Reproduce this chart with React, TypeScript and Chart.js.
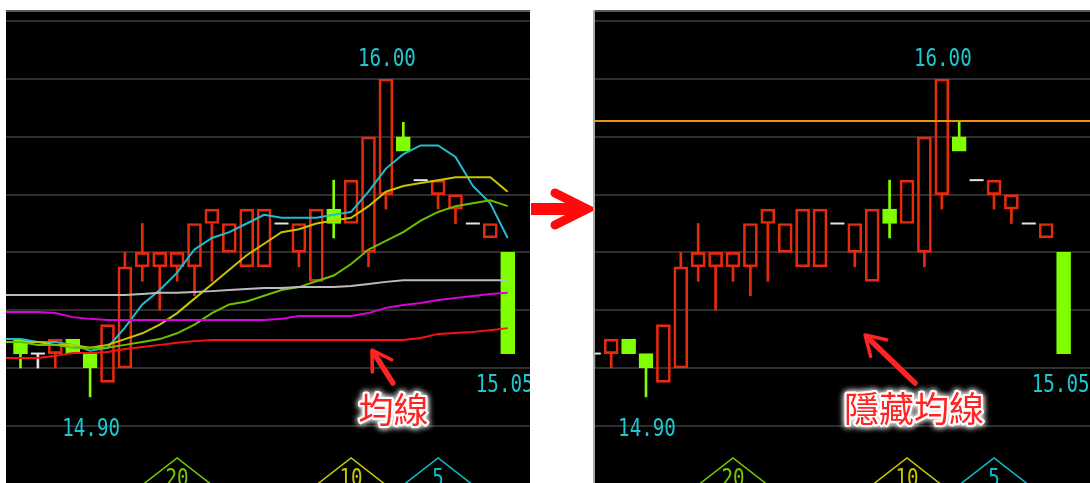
import React, { useEffect, useRef } from 'react';
import { Chart, registerables } from 'chart.js';

Chart.register(...registerables);

// ---------- data ----------
const candleIndex = [0, 1, 2, 3, 4, 5, 6, 7, 8, 9, 10, 11, 12, 13, 14, 15, 16, 17, 18, 19, 20, 21, 22, 23, 24, 25, 26, 27, 28];
const opens = [15.10, 15.05, 15.05, 15.10, 15.05, 14.95, 15.00, 15.35, 15.35, 15.35, 15.35, 15.50, 15.40, 15.35, 15.35, 15.50, 15.40, 15.30, 15.55, 15.50, 15.40, 15.60, 15.80, 15.65, 15.60, 15.55, 15.50, 15.45, 15.40];
const closes = [15.05, 15.05, 15.10, 15.05, 15.00, 15.15, 15.35, 15.40, 15.40, 15.40, 15.50, 15.55, 15.50, 15.55, 15.55, 15.50, 15.50, 15.55, 15.50, 15.65, 15.80, 16.00, 15.75, 15.65, 15.65, 15.60, 15.50, 15.50, 15.05];
const highs = [15.10, 15.05, 15.10, 15.10, 15.05, 15.15, 15.40, 15.50, 15.40, 15.40, 15.50, 15.55, 15.50, 15.55, 15.55, 15.50, 15.50, 15.55, 15.65, 15.65, 15.80, 16.00, 15.85, 15.65, 15.65, 15.60, 15.50, 15.50, 15.40];
const lows = [15.00, 15.00, 15.00, 15.05, 14.90, 14.95, 15.00, 15.30, 15.20, 15.30, 15.25, 15.30, 15.40, 15.35, 15.35, 15.50, 15.35, 15.30, 15.45, 15.50, 15.35, 15.55, 15.75, 15.65, 15.55, 15.50, 15.50, 15.45, 15.05];

// moving averages, sampled at indices -1..28
const maIndex = [-1, 0, 1, 2, 3, 4, 5, 6, 7, 8, 9, 10, 11, 12, 13, 14, 15, 16, 17, 18, 19, 20, 21, 22, 23, 24, 25, 26, 27, 28];
const ma5 = [15.10, 15.10, 15.09, 15.09, 15.08, 15.06, 15.07, 15.14, 15.22, 15.27, 15.33, 15.41, 15.45, 15.47, 15.50, 15.53, 15.52, 15.52, 15.52, 15.53, 15.54, 15.61, 15.69, 15.74, 15.77, 15.77, 15.73, 15.63, 15.57, 15.45];
const ma10 = [15.09, 15.09, 15.09, 15.08, 15.08, 15.07, 15.08, 15.10, 15.12, 15.15, 15.19, 15.24, 15.29, 15.34, 15.39, 15.43, 15.47, 15.48, 15.50, 15.51, 15.52, 15.56, 15.61, 15.63, 15.64, 15.65, 15.66, 15.66, 15.66, 15.61];
const ma20 = [15.09, 15.09, 15.08, 15.08, 15.07, 15.07, 15.07, 15.08, 15.09, 15.10, 15.12, 15.15, 15.19, 15.22, 15.23, 15.25, 15.27, 15.28, 15.30, 15.32, 15.36, 15.41, 15.44, 15.47, 15.51, 15.54, 15.56, 15.57, 15.58, 15.56];
const ma60 = [15.253, 15.253, 15.253, 15.253, 15.253, 15.253, 15.253, 15.253, 15.256, 15.260, 15.260, 15.263, 15.266, 15.270, 15.273, 15.277, 15.277, 15.280, 15.280, 15.280, 15.284, 15.291, 15.298, 15.304, 15.304, 15.304, 15.304, 15.304, 15.304, 15.304];
const ma120 = [15.194, 15.194, 15.194, 15.190, 15.176, 15.170, 15.166, 15.166, 15.166, 15.166, 15.166, 15.166, 15.166, 15.166, 15.166, 15.166, 15.170, 15.180, 15.180, 15.180, 15.180, 15.190, 15.208, 15.218, 15.225, 15.235, 15.242, 15.249, 15.256, 15.260];
const ma240 = [15.035, 15.035, 15.035, 15.042, 15.052, 15.052, 15.055, 15.066, 15.073, 15.080, 15.087, 15.093, 15.097, 15.097, 15.097, 15.097, 15.097, 15.097, 15.097, 15.097, 15.097, 15.097, 15.097, 15.097, 15.104, 15.118, 15.121, 15.125, 15.131, 15.138];

const gridPrices = [16.2, 16.0, 15.8, 15.6, 15.4, 15.2, 15.0, 14.8];
const referencePrice = 15.855;
const windowMarkers = [20, 10, 5];
const highLabelIndex = 21;
const lowLabelIndex = 4;
const lastIndex = 28;

const notes: any = {
  left: { text: '均線', tip: [20.2, 15.062], tail: [21.4, 14.948], at: [21.44, 14.856] },
  right: { text: '隱藏均線', tip: [16.59, 15.114], tail: [19.46, 14.948], at: [19.4, 14.858] },
};

// ---------- styles ----------
const COL = {
  red: '#e62a0c',
  green: '#80ff00',
  doji: '#e4e4e4',
  text: '#1ec8d2',
  grid: '#2e2e2e',
  top: '#5a5a5a',
  ref: '#e8960a',
  note: '#ff2424',
};
const maStyles = [
  { data: ma240, color: '#ff1010' },
  { data: ma120, color: '#dc00dc' },
  { data: ma60, color: '#bcbcbc' },
  { data: ma20, color: '#6cc000' },
  { data: ma10, color: '#cac400' },
  { data: ma5, color: '#22bccf' },
];
const markerColors: any = { 20: '#78c800', 10: '#c8c800', 5: '#12bccc' };

const H = 473;
const Y_MIN = 14.60208;
const Y_MAX = 16.23875;
const views: any = {
  left: { pageLeft: 6, width: 524, xMin: -0.8333, xMax: 29.2816 },
  right: { pageLeft: 595, width: 495, xMin: 1.069, xMax: 29.5172 },
};

function candleColor(i: number) {
  const o = opens[i];
  const c = closes[i];
  return c > o ? COL.red : c < o ? COL.green : COL.doji;
}

function candleDatasets() {
  const bodies: any[] = [];
  const upper: any[] = [];
  const lower: any[] = [];
  const doji: any[] = [];
  candleIndex.forEach((i) => {
    const o = opens[i], c = closes[i], h = highs[i], l = lows[i];
    const top = Math.max(o, c), bot = Math.min(o, c);
    if (o === c) doji.push({ x: i, y: c });
    else bodies.push({ x: i, y: [o, c] });
    if (h > top) upper.push({ x: i, y: [top, h] });
    if (l < bot) lower.push({ x: i, y: [l, bot] });
  });
  const colorOf = (ctx: any) => (ctx.raw ? candleColor(ctx.raw.x) : COL.red);
  return [
    {
      type: 'line', data: doji, showLine: false, pointStyle: 'line', pointRadius: 7, pointHoverRadius: 7,
      pointBorderWidth: 2, pointBorderColor: COL.doji, borderColor: COL.doji, order: 5,
    },
    {
      type: 'bar', data: bodies, barThickness: 14, grouped: false, borderWidth: 2, borderSkipped: false,
      borderColor: colorOf,
      backgroundColor: (ctx: any) => (ctx.raw && candleColor(ctx.raw.x) === COL.green ? COL.green : 'rgba(0,0,0,0)'),
      order: 6,
    },
    { type: 'bar', data: upper, barThickness: 2, grouped: false, borderWidth: 0, backgroundColor: colorOf, order: 7 },
    { type: 'bar', data: lower, barThickness: 2, grouped: false, borderWidth: 0, backgroundColor: colorOf, order: 7 },
  ];
}

function monoText(ctx: any, text: string, cx: number, baseline: number, color: string) {
  ctx.save();
  ctx.font = '24px "DejaVu Sans Mono"';
  ctx.fillStyle = color;
  ctx.textAlign = 'center';
  ctx.textBaseline = 'alphabetic';
  ctx.translate(cx, baseline);
  ctx.scale(0.8, 1);
  ctx.fillText(text, 0, 0);
  ctx.restore();
}

function drawNote(ctx: any, xs: any, ys: any, note: any) {
  const tx = xs.getPixelForValue(note.tip[0]);
  const ty = ys.getPixelForValue(note.tip[1]);
  const bx = xs.getPixelForValue(note.tail[0]);
  const by = ys.getPixelForValue(note.tail[1]);
  ctx.save();
  ctx.strokeStyle = COL.note;
  ctx.lineCap = 'round';
  ctx.lineJoin = 'round';
  ctx.lineWidth = 5.5;
  ctx.beginPath();
  ctx.moveTo(bx, by);
  ctx.lineTo(tx + (bx - tx) * 0.08, ty + (by - ty) * 0.08);
  ctx.stroke();
  const ang = Math.atan2(by - ty, bx - tx);
  const L = 22, spread = 0.55;
  ctx.lineWidth = 3.5;
  ctx.beginPath();
  ctx.moveTo(tx + L * Math.cos(ang + spread), ty + L * Math.sin(ang + spread));
  ctx.lineTo(tx, ty);
  ctx.lineTo(tx + L * Math.cos(ang - spread), ty + L * Math.sin(ang - spread));
  ctx.stroke();

  const cx = xs.getPixelForValue(note.at[0]);
  const cy = ys.getPixelForValue(note.at[1]);
  ctx.font = '35px "Noto Sans CJK TC"';
  ctx.textAlign = 'center';
  ctx.textBaseline = 'middle';
  ctx.shadowColor = 'rgba(255,255,255,0.95)';
  ctx.shadowBlur = 6;
  ctx.strokeStyle = '#ffffff';
  ctx.lineWidth = 4;
  ctx.strokeText(note.text, cx, cy);
  ctx.strokeText(note.text, cx, cy);
  ctx.shadowBlur = 0;
  ctx.fillStyle = COL.note;
  ctx.fillText(note.text, cx, cy);
  ctx.restore();
}

function makeDecor(side: string) {
  return {
    id: 'decor-' + side,
    beforeDatasetsDraw(chart: any) {
      const { ctx, chartArea: a, scales } = chart;
      const ys = scales.y;
      ctx.save();
      ctx.fillStyle = '#000';
      ctx.fillRect(a.left, a.top, a.right - a.left, a.bottom - a.top);
      ctx.lineWidth = 2;
      ctx.strokeStyle = COL.grid;
      gridPrices.forEach((p) => {
        const py = Math.round(ys.getPixelForValue(p));
        ctx.beginPath();
        ctx.moveTo(a.left, py);
        ctx.lineTo(a.right, py);
        ctx.stroke();
      });
      ctx.strokeStyle = COL.top;
      ctx.beginPath();
      ctx.moveTo(a.left, a.top + 1);
      ctx.lineTo(a.right, a.top + 1);
      ctx.stroke();
      ctx.restore();
    },
    afterDatasetsDraw(chart: any) {
      const { ctx, chartArea: a, scales } = chart;
      const xs = scales.x, ys = scales.y;
      monoText(ctx, highs[highLabelIndex].toFixed(2), xs.getPixelForValue(highLabelIndex) + 1, ys.getPixelForValue(highs[highLabelIndex]) - 13, COL.text);
      monoText(ctx, lows[lowLabelIndex].toFixed(2), xs.getPixelForValue(lowLabelIndex) + 1, ys.getPixelForValue(lows[lowLabelIndex]) + 39, COL.text);
      monoText(ctx, lows[lastIndex].toFixed(2), xs.getPixelForValue(lastIndex) - 3, ys.getPixelForValue(lows[lastIndex]) + 38, COL.text);
      windowMarkers.forEach((p) => {
        const cx = xs.getPixelForValue(lastIndex - p + 1);
        const apex = a.bottom - 25;
        const color = markerColors[p];
        ctx.save();
        ctx.strokeStyle = color;
        ctx.lineWidth = 1.5;
        ctx.beginPath();
        ctx.moveTo(cx - 40, apex + 31);
        ctx.lineTo(cx, apex);
        ctx.lineTo(cx + 40, apex + 31);
        ctx.stroke();
        ctx.restore();
        monoText(ctx, String(p), cx, a.bottom + 3, color);
      });
      drawNote(ctx, xs, ys, notes[side]);
    },
  };
}

function buildConfig(side: string): any {
  const v = views[side];
  const datasets: any[] = [...candleDatasets()];
  if (side === 'left') {
    maStyles.forEach((m) => {
      datasets.push({
        type: 'line',
        data: maIndex.map((x, k) => ({ x, y: m.data[k] })),
        borderColor: m.color,
        borderWidth: 2,
        pointRadius: 0,
        tension: 0,
        order: 0,
      });
    });
  } else {
    datasets.push({
      type: 'line',
      data: [{ x: -5, y: referencePrice }, { x: 40, y: referencePrice }],
      borderColor: COL.ref,
      borderWidth: 2,
      pointRadius: 0,
      order: 0,
    });
  }
  return {
    type: 'bar',
    data: { datasets },
    options: {
      responsive: false,
      animation: false,
      events: [],
      layout: { padding: 0, autoPadding: false },
      plugins: { legend: { display: false }, tooltip: { enabled: false } },
      scales: {
        x: { type: 'linear', display: false, min: v.xMin, max: v.xMax, offset: false, bounds: 'data' },
        y: { type: 'linear', display: false, min: Y_MIN, max: Y_MAX, bounds: 'data' },
      },
    },
    plugins: [makeDecor(side)],
  };
}

function Panel({ side }: { side: string }) {
  const ref = useRef<HTMLCanvasElement | null>(null);
  const v = views[side];
  useEffect(() => {
    const chart = new Chart(ref.current as HTMLCanvasElement, buildConfig(side));
    return () => chart.destroy();
  }, [side]);
  return (
    <canvas
      ref={ref}
      width={v.width}
      height={H}
      style={{ position: 'absolute', left: v.pageLeft, top: 10, width: v.width, height: H, display: 'block' }}
    />
  );
}

export default function App() {
  return (
    <div style={{ position: 'fixed', left: 0, top: 0, width: 1090, height: 483, background: '#ffffff', overflow: 'hidden' }}>
      <svg width={1090} height={483} style={{ position: 'absolute', left: 0, top: 0 }}>
        <rect x={531} y={203} width={52} height={12} fill="#ff0a0a" />
        <polyline points="555,193 587,209 555,225" fill="none" stroke="#ff0a0a" strokeWidth={9} strokeLinejoin="miter" strokeLinecap="round" />
      </svg>
      <div style={{ position: 'absolute', left: 593, top: 10, width: 2, height: H, background: '#a8a8a8' }} />
      <Panel side="left" />
      <Panel side="right" />
    </div>
  );
}
